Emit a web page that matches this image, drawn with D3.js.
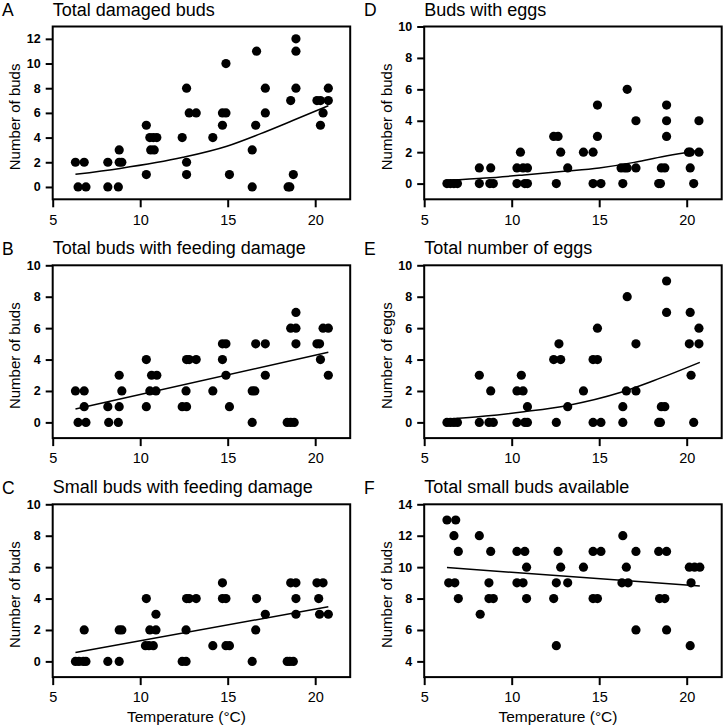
<!DOCTYPE html>
<html><head><meta charset="utf-8">
<script src="https://cdn.jsdelivr.net/npm/d3@7"></script>
<style>
body{margin:0;background:#fff}
svg{display:block}
text{font-family:"Liberation Sans",Arial,Helvetica,sans-serif;fill:#000}
</style>
</head><body>
<svg id="chart" width="724" height="726"></svg>
<script>
// ---- Data (temperature °C, counts) ----
const xA = [6.3,6.8,6.45,6.9,8.15,8.15,8.75,8.8,8.8,8.95,10.35,10.55,10.75,10.95,10.6,10.8,10.35,12.65,12.8,13.2,12.4,12.65,12.65,14.15,14.7,14.7,14.9,14.9,15.1,16.4,16.4,16.6,16.65,17.15,17.15,18.45,18.55,18.75,18.6,18.9,18.9,18.9,20.1,20.3,20.45,20.3,20.75,20.75];
const yA = [2,2,0,0,2,0,0,3,2,2,5,4,4,4,3,3,1,8,6,6,4,2,1,4,5,6,6,10,1,3,0,5,11,8,6,0,0,1,7,8,11,12,7,7,6,5,7,8];
const fitXA = [6.3,8.85,12.45,14.95,16.85,18.75,20.75];
const fitYA = [1.02,1.5,2.4,3.3,4.3,5.4,6.58];

const xB = [6.3,6.8,6.8,6.45,6.9,8.15,8.2,8.75,8.8,8.95,8.8,10.35,10.65,10.95,10.55,10.9,10.35,12.65,12.8,13.2,12.62,12.4,12.65,14.15,14.7,14.7,14.9,14.9,15.1,16.4,16.55,16.4,16.6,17.15,17.15,18.4,18.6,18.8,18.9,18.6,18.9,18.9,20.1,20.25,20.3,20.45,20.75,20.75];
const yB = [2,2,1,0,0,1,0,0,3,2,1,4,3,3,2,2,1,4,4,4,2,1,1,2,4,5,5,3,1,2,2,0,5,5,3,0,0,0,7,6,6,5,5,5,4,6,6,3];
const fitXB = [6.3,20.75];
const fitYB = [0.85,4.46];

const xC = [6.3,6.5,6.75,6.9,6.8,8.15,8.8,8.8,8.95,10.35,10.9,10.55,10.9,10.3,10.5,10.75,12.4,12.62,12.62,12.65,12.8,13.2,14.15,14.7,14.7,14.9,14.9,15.1,16.4,16.6,16.65,17.15,18.4,18.55,18.75,18.9,18.9,18.6,18.9,20.1,20.45,20.2,20.25,20.75];
const yC = [0,0,0,0,2,0,0,2,2,4,3,2,2,1,1,1,0,0,2,4,4,4,1,5,4,4,1,1,0,2,4,3,0,0,0,3,4,5,5,5,5,4,3,3];
const fitXC = [6.3,20.75];
const fitYC = [0.57,3.48];

const xD = [6.3,6.5,6.7,6.9,8.15,8.15,8.8,8.75,8.95,10.5,10.3,10.65,10.9,10.3,10.75,10.9,12.4,12.65,12.8,13.2,12.55,14.1,14.65,14.9,14.9,14.65,15.1,16.6,17.1,16.25,16.45,16.6,17.1,16.35,18.85,18.85,18.85,18.55,18.75,18.4,18.5,20.1,20.2,20.7,20.7,20.2,20.4];
const yD = [0,0,0,0,1,0,1,0,0,2,1,1,1,0,0,0,3,3,2,1,0,2,2,5,3,0,0,6,4,1,1,1,1,0,5,4,3,1,1,0,0,2,2,4,2,1,0];
const fitXD = [6.3,8.5,10.7,13,15,17,18.1,20.75];
const fitYD = [0.2,0.35,0.55,0.78,1.0,1.35,1.6,2.12];

const xE = [6.3,6.5,6.7,6.9,8.15,8.15,8.8,8.7,8.95,10.55,10.3,10.65,10.9,10.3,10.75,10.9,12.7,12.4,12.8,13.2,12.55,14.1,14.65,14.9,14.9,14.65,15.1,16.6,17.1,16.55,17.1,16.35,16.35,18.85,18.85,18.55,18.75,18.4,18.5,20.2,20.15,20.7,20.7,20.25,20.4];
const yE = [0,0,0,0,3,0,2,0,0,3,2,2,1,0,0,0,5,4,4,1,0,2,4,4,6,0,0,8,5,2,2,1,0,9,7,1,1,0,0,7,5,5,6,3,0];
const fitXE = [6.3,8.5,10.7,13.2,16.2,18.1,20.75];
const fitYE = [0.2,0.4,0.68,1.08,1.9,2.65,3.82];

const xF = [6.3,6.8,6.7,6.95,6.4,6.75,6.95,8.15,8.2,8.8,8.7,8.7,8.95,10.3,10.75,10.85,10.3,10.65,10.85,12.4,12.55,12.65,12.8,12.55,13.2,14.1,14.65,15.1,14.65,14.9,16.35,16.55,16.3,16.65,17.1,17.1,18.4,18.85,18.45,18.75,18.85,20.15,20.45,20.75,20.25,20.2];
const yF = [13,13,12,11,9,9,8,12,7,11,9,8,8,11,11,10,9,9,8,8,5,11,10,9,9,10,11,11,8,8,12,10,9,9,11,6,11,11,8,8,6,10,10,10,9,5];
const fitXF = [6.3,20.75];
const fitYF = [9.97,8.8];

const xTicks = [5,10,15,20];
const yTicks0to12 = [0,2,4,6,8,10,12];
const yTicks0to10 = [0,2,4,6,8,10];
const yTicks4to14 = [4,6,8,10,12,14];

const letters = ["A","B","C","D","E","F"];
const titles = ["Total damaged buds","Total buds with feeding damage","Small buds with feeding damage","Buds with eggs","Total number of eggs","Total small buds available"];
const yLabels = ["Number of buds","Number of buds","Number of buds","Number of buds","Number of eggs","Number of buds"];
const xLabel = "Temperature (\u00B0C)";

// ---- Panel specs ----
const panels = [
  {xs:xA, ys:yA, fx:fitXA, fy:fitYA, yDom:[-1,13], yt:yTicks0to12, col:0, row:0},
  {xs:xB, ys:yB, fx:fitXB, fy:fitYB, yDom:[-1,10], yt:yTicks0to10, col:0, row:1},
  {xs:xC, ys:yC, fx:fitXC, fy:fitYC, yDom:[-1,10], yt:yTicks0to10, col:0, row:2},
  {xs:xD, ys:yD, fx:fitXD, fy:fitYD, yDom:[-1,10], yt:yTicks0to10, col:1, row:0},
  {xs:xE, ys:yE, fx:fitXE, fy:fitYE, yDom:[-1,10], yt:yTicks0to10, col:1, row:1},
  {xs:xF, ys:yF, fx:fitXF, fy:fitYF, yDom:[3,14], yt:yTicks4to14, col:1, row:2}
];

const svg = d3.select("#chart");
const colLeft = [52.7, 424.2];
const colStart = [0, 362];
const plotW = 297.5;
const rowTop = [26.5, 265.3, 504.3];
const plotH = 172.8;

panels.forEach((p, i) => {
  const L = colLeft[p.col], T = rowTop[p.row], B = T + plotH, R = L + plotW;
  const x = d3.scaleLinear().domain([5,22]).range([L, R]);
  const y = d3.scaleLinear().domain(p.yDom).range([B, T]);
  const g = svg.append("g");

  // letter and title
  g.append("text").attr("x", colStart[p.col] + 2).attr("y", T - 10.5)
    .attr("font-size", 17.5).text(letters[i]);
  g.append("text").attr("x", L).attr("y", T - 11)
    .attr("font-size", 18).text(titles[i]);

  // y axis
  const ya = g.append("g").attr("transform", `translate(${L},0)`)
    .call(d3.axisLeft(y).tickValues(p.yt).tickSize(7).tickPadding(5).tickSizeOuter(0));
  ya.select(".domain").remove();
  ya.selectAll("line").attr("stroke", "#000").attr("stroke-width", 2);
  ya.selectAll("text").attr("font-size", 12.5).attr("font-family", null).style("font-weight", "bold");

  // x axis
  const xa = g.append("g").attr("transform", `translate(0,${B})`)
    .call(d3.axisBottom(x).tickValues(xTicks).tickSize(8).tickPadding(7).tickSizeOuter(0));
  xa.select(".domain").remove();
  xa.selectAll("line").attr("stroke", "#000").attr("stroke-width", 2);
  xa.selectAll("text").attr("font-size", 14.5).attr("font-family", null);

  // frame
  g.append("rect").attr("x", L).attr("y", T).attr("width", plotW).attr("height", plotH)
    .attr("fill", "none").attr("stroke", "#000").attr("stroke-width", 2);

  // y label
  const ly = (T + B) / 2 + 4;
  g.append("text").attr("transform", `translate(${L - 32.5},${ly}) rotate(-90)`)
    .attr("text-anchor", "middle").attr("font-size", 15).text(yLabels[i]);

  // fitted line
  const line = d3.line().x((d) => x(d[0])).y((d) => y(d[1])).curve(d3.curveMonotoneX);
  g.append("path").datum(p.fx.map((v, k) => [v, p.fy[k]]))
    .attr("d", line).attr("fill", "none").attr("stroke", "#000").attr("stroke-width", 1.5);

  // points
  g.selectAll("circle.pt").data(p.xs.map((v, k) => [v, p.ys[k]])).enter()
    .append("circle").attr("class", "pt")
    .attr("cx", (d) => x(d[0])).attr("cy", (d) => y(d[1])).attr("r", 4.6).attr("fill", "#000");

  if (p.row === 2) {
    g.append("text").attr("x", (L + R) / 2 - 15).attr("y", 722)
      .attr("text-anchor", "middle").attr("font-size", 15.5).text(xLabel);
  }
});
</script>
</body></html>
